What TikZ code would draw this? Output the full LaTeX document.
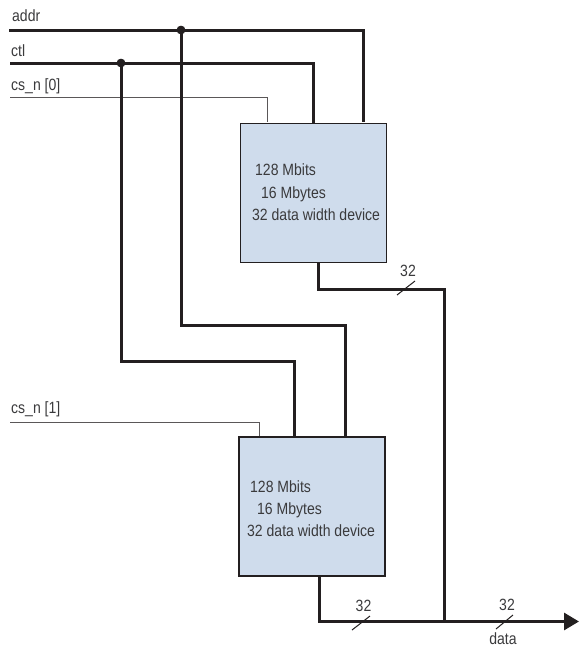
\documentclass[tikz,border=0pt]{standalone}
\usepackage{fontspec}
\setmainfont[FakeStretch=0.86]{Liberation Sans}
\usetikzlibrary{arrows.meta}
\definecolor{ink}{HTML}{231F20}
\definecolor{boxfill}{HTML}{CFDCEC}
\definecolor{txt}{HTML}{3A3A3C}
\tikzset{
  x=1pt,y=-1pt,
  membox/.style={draw=ink,line width=1.4pt,fill=boxfill,minimum width=146pt,minimum height=139pt,inner sep=0pt,outer sep=0pt},
  bus/.style={draw=ink,line width=3pt,line join=miter},
  thinwire/.style={draw=ink!75,line width=1pt},
  slash/.style={draw=ink,line width=1pt},
  junction/.style={circle,fill=ink,inner sep=0pt,minimum size=8.5pt},
  lbl/.style={text=txt,font=\fontsize{16.3}{16.3}\selectfont,inner sep=0pt,anchor=base west},
  lblc/.style={text=txt,font=\fontsize{16.3}{16.3}\selectfont,inner sep=0pt,anchor=base}
}
\begin{document}
\begin{tikzpicture}
\useasboundingbox (0,0) rectangle (579,648);
\fill[white] (0,0) rectangle (579,648);
% free ends and corners
\coordinate (addrS) at (9,30);
\coordinate (ctlS) at (10,63);
\coordinate (cs0S) at (10,97);
\coordinate (cs1S) at (10,422);
\node[junction] (jaddr) at (181,30) {};
\node[junction] (jctl) at (121,63) {};
\node[membox] (m0) at (313.5,193.2) {};
\node[membox] (m1) at (312,506.5) {};
\coordinate (addrC) at (363,30);
\coordinate (ctlC) at (313,63);
\coordinate (cs0C) at (267,97);
\coordinate (cs1C) at (259,422);
\coordinate (addrIn) at (363,122);
\coordinate (ctlIn) at (313,123);
\coordinate (cs0In) at (267,122);
\coordinate (cs1In) at (259,437);
\coordinate (a1) at (181,325);
\coordinate (a2) at (345,325);
\coordinate (a3) at (345,437);
\coordinate (c1) at (121,361);
\coordinate (c2) at (294,361);
\coordinate (c3) at (294,437);
\coordinate (o0a) at (318,263);
\coordinate (o0b) at (318,289);
\coordinate (o0c) at (444.5,289);
\coordinate (o1a) at (319,576);
\coordinate (o1b) at (319,621.5);
\coordinate (jdata) at (444.5,621.5);
\coordinate (dataE) at (579,621.5);
% wires
\draw[bus] (addrS) -- (addrC) -- (addrIn);
\draw[bus] (ctlS) -- (ctlC) -- (ctlIn);
\draw[thinwire] (cs0S) -- (cs0C) -- (cs0In);
\draw[thinwire] (cs1S) -- (cs1C) -- (cs1In);
\draw[bus] (jaddr.center) -- (a1) -- (a2) -- (a3);
\draw[bus] (jctl.center) -- (c1) -- (c2) -- (c3);
\draw[bus] (o0a) -- (o0b) -- (o0c) -- (jdata);
\draw[bus] (o1a) -- (o1b) -- (jdata);
\draw[bus,-{Triangle[length=15pt,width=17pt]}] (jdata) -- (dataE);
\node[junction] at (jaddr) {};
\node[junction] at (jctl) {};
% boxes on top of the stubs
\node[membox] at (m0) {};
\node[membox] at (m1) {};
% bus width slashes
\draw[slash] (397,295) -- (415,281);
\draw[slash] (352,630) -- (370,616);
\draw[slash] (496,629) -- (513,615);
% labels
\node[lbl] (laddr) at (12,21) {addr};
\node[lbl] (lctl) at (11,56) {ctl};
\node[lbl] (lcs0) at (11,90) {cs\_n [0]};
\node[lbl] (lcs1) at (11,413) {cs\_n [1]};
\node[lbl] (t01) at (255,175) {128 Mbits};
\node[lbl] (t02) at (261,198) {16 Mbytes};
\node[lbl] (t03) at (252,220) {32 data width device};
\node[lbl] (t11) at (250,492.7) {128 Mbits};
\node[lbl] (t12) at (257,514) {16 Mbytes};
\node[lbl] (t13) at (247,536.7) {32 data width device};
\node[lblc] (w0) at (408,276) {32};
\node[lblc] (w1) at (363.5,611) {32};
\node[lblc] (w2) at (507,610) {32};
\node[lblc] (ldata) at (503,644) {data};
\end{tikzpicture}
\end{document}
